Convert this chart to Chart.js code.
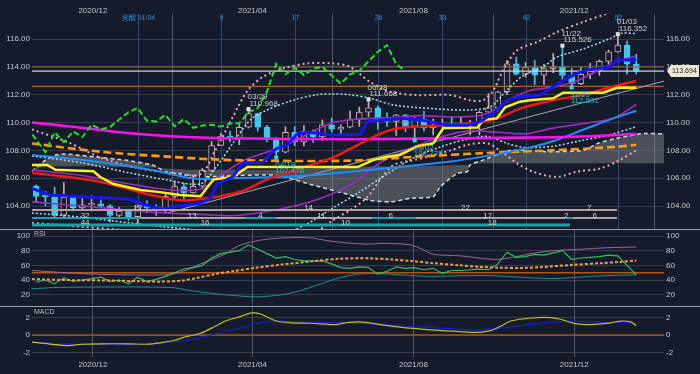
<!DOCTYPE html>
<html><head><meta charset="utf-8">
<script src="https://cdn.jsdelivr.net/npm/chart.js@4.4.1/dist/chart.umd.min.js"></script>
<style>
html,body{margin:0;padding:0;background:#151b2a;}
body{width:700px;height:374px;position:relative;overflow:hidden;}
canvas{position:absolute;left:0;}
</style></head><body>
<canvas id="cMain" width="700" height="229" style="top:0"></canvas>
<canvas id="cRsi" width="700" height="77" style="top:229px"></canvas>
<canvas id="cMacd" width="700" height="68" style="top:306px"></canvas>
<script>
// ---------- DATA ----------
const weekStart = '2020-10-19'; // week index 0
const opens = [105.42,104.70,104.66,103.35,104.62,103.86,104.08,104.16,104.02,103.32,103.64,103.23,103.94,103.86,103.78,104.70,105.39,104.95,105.42,106.56,108.35,109.03,108.88,109.66,110.64,109.66,108.78,107.88,109.30,108.60,109.36,108.96,109.84,109.52,109.67,110.22,110.75,111.05,110.13,110.08,110.55,109.72,110.25,109.62,109.78,109.84,109.71,109.93,109.94,110.74,111.05,112.21,114.22,113.47,113.95,113.41,113.87,114.00,113.38,112.80,113.46,113.71,114.40,115.08,115.56,114.20];
const highs = [105.53,105.06,105.35,105.68,104.72,104.75,104.75,104.45,104.11,103.89,103.78,104.08,104.40,104.09,104.94,105.77,105.65,106.22,106.70,108.64,109.24,109.36,109.85,110.968,110.68,109.80,108.94,109.70,109.70,109.79,109.48,110.20,110.33,109.81,110.82,111.11,111.668,111.20,110.70,110.59,110.59,110.37,110.80,110.25,110.25,110.42,110.45,110.16,110.80,112.08,112.25,114.47,114.70,114.31,114.45,114.19,114.97,115.526,113.89,113.95,114.25,114.50,115.20,116.352,115.85,114.90];
const lows = [104.34,104.02,103.18,103.19,103.65,103.70,103.66,103.90,102.88,103.24,102.96,102.59,103.52,103.33,103.56,104.48,104.52,104.92,105.22,106.50,108.34,108.61,108.41,109.60,109.38,108.61,107.478,107.80,108.34,108.34,108.57,108.72,109.32,109.19,109.61,109.72,110.42,109.53,109.72,109.07,109.35,108.723,109.40,109.11,109.60,109.60,109.59,109.11,109.11,110.68,110.82,112.00,113.41,113.26,112.73,112.72,113.58,113.06,112.531,112.73,113.15,113.40,114.23,115.05,113.48,113.50];
const closes = [104.70,104.66,103.35,104.62,103.86,104.08,104.16,104.02,103.32,103.64,103.23,103.94,103.86,103.78,104.70,105.39,104.95,105.42,106.56,108.35,109.03,108.88,109.66,110.64,109.66,108.78,107.88,109.30,108.60,109.36,108.96,109.84,109.52,109.67,110.22,110.75,111.05,110.13,110.08,110.55,109.72,110.25,109.62,109.78,109.84,109.71,109.93,109.94,110.74,111.05,112.21,114.22,113.47,113.95,113.41,113.87,114.00,113.38,112.80,113.46,113.71,114.40,115.08,115.56,114.20,113.694];

const monthTickDates = ['2020-12-01','2021-04-01','2021-08-01','2021-12-01'];
const monthTickLabels = ['2020/12','2021/04','2021/08','2021/12'];
const priceTicks = [104,106,108,110,112,114,116];
const rsiTicks = [20,40,60,80,100];
const macdTicks = [-2,0,2];
const weekMarkDates = ['2021-01-04','2021-03-08','2021-05-03','2021-07-05','2021-08-23','2021-10-25','2022-01-03'];
const weekMarkLabels = ['覚醒 01/04','9','17','26','33','42','52'];

const highMarkWeeks = [23,36,57,63];
const highMarkLabels = ['03/29','06/28','11/22','01/03'];
const lowMarkWeeks = [26,41,58];
const lowMarkLabels = ['04/19','08/02','11/29'];

const levelValues = [114.0, 112.6];
const chikouShift = 25;

// indicator lines: [weekIndex, value]
const maMagenta = [[-0.45,110.0],[4,109.7],[9,109.3],[15,109.0],[21,108.87],[34,108.8],[45,108.87],[56,108.94],[63,109.1],[65,109.2]];
const maOrange = [[-0.45,108.5],[7,107.9],[14.2,107.55],[21.3,107.3],[34,107.26],[41.3,107.55],[48.4,107.8],[55.7,108.0],[62.9,108.26],[65,108.4]];
const maDodger = [[-0.45,107.67],[5.1,107.3],[12.4,106.6],[15.9,106.1],[17.8,105.94],[21.3,106.0],[26.8,106.1],[34,106.47],[44.9,107.2],[48.4,107.55],[52.1,108.0],[55.7,108.6],[59.3,109.5],[62.5,110.3],[65,110.85]];
const maRed = [[-0.45,106.4],[6.9,105.75],[12.4,104.8],[15.9,104.4],[18.9,104.6],[22.1,105.03],[25,105.9],[28.6,106.7],[32.2,107.5],[34,108.1],[37.3,109.2],[39.4,109.6],[44,109.8],[48.1,110.0],[50.3,110.4],[52.4,111.0],[56,111.6],[59.3,112.0],[62,112.5],[65,113.0]];
const kijunYellow = [[-0.45,106.95],[1.2,106.95],[2.1,106.6],[6.2,106.5],[6.9,106.1],[8.3,105.6],[11.3,105.15],[13.4,105.0],[15.6,104.8],[17.8,104.7],[19.2,105.9],[21.3,106.1],[22.9,106.8],[34.8,106.8],[36.5,107.3],[38,107.55],[39.4,107.67],[41.3,108.3],[43,108.5],[44.1,109.6],[47.8,109.65],[48.4,110.2],[49.9,110.3],[50.8,111.1],[52.4,111.5],[53.5,111.6],[56,111.74],[57.1,112.14],[61.4,112.14],[62.9,112.5],[65,112.5]];
const tenkanBlue = [[-0.45,105.27],[1.5,104.8],[6.9,104.6],[10.1,104.5],[11.3,104.2],[13.1,103.84],[14.2,103.8],[14.9,103.95],[17.8,104.2],[18.9,104.56],[19.6,105.6],[21.3,106.1],[22.4,107.07],[24.6,107.14],[25.4,107.8],[26.1,108.15],[27.2,108.4],[28.3,109.2],[29.4,109.3],[32.2,109.1],[35.1,109.16],[35.9,110.06],[39.4,110.3],[41.6,110.2],[44.5,109.8],[46.7,109.8],[48.1,110.06],[49.5,110.66],[51,111.6],[52.4,111.86],[54.6,111.97],[56,112.57],[57.5,113.17],[58.6,113.54],[59.7,113.77],[62.2,114.0],[62.9,114.5],[65,114.5]];
const bandPinkUp = [[-0.45,109.5],[3.4,108.6],[6.9,107.5],[10.5,106.8],[14.2,106.4],[17.8,106.3],[19.4,108.0],[21.3,110.4],[22.9,112.3],[24.6,113.3],[26.8,113.9],[29.4,114.25],[32.2,114.25],[34,114.0],[36.2,112.9],[38.4,112.2],[41.3,111.97],[44.9,111.97],[47,111.6],[48.4,111.6],[49.5,112.3],[50.6,113.8],[52.1,115.2],[54.3,115.8],[56.4,116.5],[59.3,117.24],[61.9,117.85],[65,118.5]];
const bandPinkLo = [[-0.45,102.8],[5.1,102.5],[10.5,102.2],[14,101.8],[20,101.2],[26,101.0],[30,102.0],[32.2,103.0],[34,103.7],[35.9,104.67],[37.6,106.2],[38.7,106.95],[41.3,107.36],[44.9,108.0],[46.7,108.4],[48.9,108.5],[50.6,107.8],[52.1,107.07],[53.8,106.47],[56.4,106.1],[58.6,106.47],[61.1,106.7],[62.9,107.2],[65,108.0]];
const bandCyanUp = [[-0.45,107.6],[5,107.1],[10,106.4],[14,105.9],[17.8,105.6],[19.5,106.8],[21.3,108.5],[23.2,110.2],[25,110.9],[27.8,111.6],[30.4,112.0],[32.2,112.05],[34,112.0],[36.2,111.74],[38.7,111.26],[43,111.0],[46.7,110.9],[49.2,111.14],[51,112.34],[52.8,113.4],[54.9,114.0],[56.4,114.7],[59.3,115.3],[62.2,116.05],[63.3,116.4],[65,116.4]];
const bandCyanLo = [[-0.45,103.5],[5,103.2],[10,102.8],[14,102.5],[18,102.2],[22,101.6],[26,101.8],[29,102.6],[32,103.8],[35,105.0],[38,106.3],[41,107.5],[44,108.3],[46.7,108.8],[48.9,109.0],[51,108.5],[53,108.2],[56,108.3],[59,108.7],[62,109.1],[65,109.7]];
const bandPurpleUp = [[-0.45,106.6],[5,106.2],[10,105.6],[14,105.2],[17.8,105.2],[19.6,106.0],[21.3,106.8],[22.9,107.4],[26.8,108.3],[30.4,109.5],[32.2,110.0],[34,110.2],[39.4,110.4],[41.6,110.5],[44.9,110.4],[48.1,110.5],[49.9,111.0],[51.7,111.8],[53.5,112.3],[56.4,112.6],[58.6,113.0],[61,113.8],[63,114.4],[65,114.8]];
const bandPurpleLo = [[-0.45,104.3],[5,104.0],[10,103.7],[14,103.5],[18,103.4],[21,103.3],[24,103.5],[28,104.0],[31,104.6],[34,105.5],[37,107.0],[40,108.0],[44,109.0],[47,109.4],[50,109.3],[53,109.2],[56,109.6],[60,110.0],[62.5,110.3],[65,111.3]];
const cloudX = [-0.45,1,2.1,3.1,6.1,9.6,12.6,14,15.4,17.8,22,26.1,30,34,36.2,38.4,40.5,43,43.8,45.6,46.7,47,48.4,51.4,55.7,59.3,60.8,62.9,64.7,65.4,68];
const spanA = [106.5,107.3,107.67,107.74,107.55,107.3,106.95,106.47,106.35,106.1,106.2,106.2,105.5,104.8,104.4,104.3,104.55,104.67,105.4,106.35,106.47,106.95,107.3,108.0,107.9,108.0,108.5,108.87,109.1,109.2,109.2];
const spanB = [106.6,106.83,106.85,106.85,106.85,106.8,106.75,106.7,106.65,106.6,106.6,106.6,106.7,106.83,106.85,106.85,106.88,106.9,106.9,106.95,106.95,107.0,107.07,107.07,107.07,107.07,107.07,107.07,107.07,107.07,107.07];
const trendLine = [[14.2,103.5],[68.4,113.05]];

// cycle count rows: [fromWeek, toWeek, kind]
const cycleRow1 = [[-0.45,62.9,'p']];
const cycleRow1Labels = [[11.0,'12'],[29.5,'14'],[46.5,'22'],[59.9,'7']];
const cycleRow2 = [[-0.45,11.3,'t'],[11.3,22.7,'p'],[22.7,26,'t'],[26,36.4,'p'],[36.4,41.1,'t'],[41.1,57.3,'p'],[57.3,58.1,'t'],[58.1,62.9,'p']];
const cycleRow2Labels = [[5.3,'32'],[16.9,'13'],[24.3,'4'],[30.9,'11'],[38.4,'6'],[48.9,'17'],[57.4,'2'],[60.5,'6']];
const cycleRow3 = [[-0.45,57.8,'t']];
const cycleRow3Labels = [[5.3,'44'],[18.3,'16'],[33.5,'10'],[49.4,'18']];

// RSI panel
const rsiGreen = [37,40,35,43,38,40,42,44,38,40,35,44,38,41,45,50,55,57,60,70,76,78,80,88,82,76,70,72,68,66,66,66,62,57,56,58,57,48,52,58,56,57,54,56,49,53,53,54,55,54,62,78,71,72,75,74,77,80,68,70,71,72,74,73,60,47];
const rsiPurple = [[-0.45,53],[4.4,49],[8,47.5],[13.5,47],[15.5,50],[17.4,60],[20.4,75],[21.8,86],[23.7,93],[26.1,97],[29,98],[30,97],[31.9,93],[34.3,90],[35.8,89],[37.7,90],[40.5,88],[41.8,82],[43,75],[45.9,73],[49.7,68],[51.7,71],[53.6,76],[56,80],[58.9,82],[61.8,84],[65,85]];
const rsiTeal = [[-0.45,28],[2.5,30],[14.5,30],[16.5,26],[18.9,22],[21.3,19],[23.7,17],[25.2,18],[27.1,21],[29,27],[30.9,35],[32.8,43],[34.8,48],[36.7,49],[39.6,47],[42.5,45],[46.4,46],[49.2,46],[52.1,44],[56,42],[58.9,44],[61.8,46],[65,47]];
const rsiSignal = [[-0.45,41.3],[3,40],[7,39.5],[11,38.5],[13.4,37.8],[15.6,39],[17.5,43],[19.3,48],[21.5,52.5],[23.7,56.5],[26.5,61],[29.9,65.5],[32.8,69],[36.2,69.5],[38.5,68],[40.6,66],[43,63],[45.9,60],[48,58],[50.3,56.8],[52.5,56.5],[54.6,57.5],[57.9,60.5],[61.1,63],[63,64.5],[65,66.5]];
const rsiLevel = 50;

// MACD panel
const macdLine = [[-0.45,-0.8],[2,-1.1],[3.5,-1.2],[5,-1.05],[7,-1.0],[10,-1.0],[12,-1.05],[13.4,-0.9],[15,-0.6],[16.2,-0.2],[17.8,0.2],[19.4,1.0],[20.5,1.6],[22.1,2.1],[23.2,2.5],[24.3,2.4],[26,1.6],[27.6,1.4],[29.7,1.35],[32.4,1.2],[33.5,1.4],[35,1.5],[37.3,1.2],[39.4,0.9],[42.7,0.6],[45.9,0.4],[47.6,0.3],[49.2,0.5],[50.3,1.0],[51.4,1.6],[53.6,1.95],[55.7,2.0],[56.8,1.8],[58.4,1.3],[60,1.2],[62.2,1.4],[63.3,1.6],[64.4,1.5],[65,1.05]];
const macdSignal = [[-0.45,-0.8],[2.6,-1.0],[6.9,-1.05],[10.2,-1.1],[13.4,-0.9],[15.6,-0.7],[17.8,-0.3],[20.5,0.4],[22.1,0.8],[23.7,1.3],[25.9,1.6],[28.6,1.5],[31.9,1.45],[34,1.4],[37.3,1.2],[40.6,1.0],[43.8,0.8],[47,0.6],[48.1,0.6],[50.3,0.8],[53.5,1.2],[56.2,1.5],[57.9,1.6],[60,1.5],[62.2,1.4],[64.4,1.4],[65,1.2]];
const macdLevel = 0;

// ---------- RENDER ----------
const X_MIN = -0.45, X_MAX = 68.0;
const BG = '#151b2a';
const FONT = '"Liberation Sans", Arial, sans-serif';
Chart.defaults.font.family = FONT;
Chart.defaults.font.size = 8;
Chart.defaults.color = '#c4c7cc';
Chart.defaults.animation = false;

const idxOf = d => (Date.parse(d) - Date.parse(weekStart)) / (7*86400000);
const pairs = a => a.map(p => ({x:p[0], y:p[1]}));
const flat = v => [{x:X_MIN,y:v},{x:X_MAX,y:v}];

function line(data, color, width, dash, order, tension, extra){
  return Object.assign({type:'line', data, borderColor:color, borderWidth:width, borderDash:dash||[],
    pointRadius:0, tension:tension===undefined?0.3:tension, fill:false, order}, extra||{});
}
function xScale(extra){
  return Object.assign({
    type:'linear', min:X_MIN, max:X_MAX, offset:false,
    afterBuildTicks: s => { s.ticks = monthTickDates.map(d => ({value: idxOf(d)})); },
    ticks:{autoSkip:false, maxRotation:0, color:'#c4c7cc', font:{size:8}, padding:1, callback:(v,i)=>monthTickLabels[i]},
    grid:{color:'rgba(150,158,172,0.45)', drawTicks:false, lineWidth:1},
    border:{display:false}
  }, extra);
}
function yScale(pos, min, max, tickVals, fmt, showGrid){
  return {
    type:'linear', position:pos, min, max,
    afterBuildTicks: s => { s.ticks = tickVals.map(v => ({value:v})); },
    afterFit: s => { s.width = pos === 'left' ? 32 : 36; s.paddingTop = 0; s.paddingBottom = 0; },
    ticks:{color:'#c4c7cc', font:{size:8}, padding:2, callback:fmt},
    grid:{display:showGrid, color:'rgba(120,132,152,0.32)', drawTicks:false},
    border:{display:false}
  };
}

// main panel
const HOLLOW = '#c9a7b0', CYAN = '#46c3ea';
const isUp = closes.map((c,i) => c >= opens[i]);
const mainExtras = {
  id:'mainExtras',
  beforeDatasetsDraw(chart){
    const {ctx, chartArea:a, scales:{x}} = chart;
    ctx.save();
    ctx.font = '7px ' + FONT; ctx.textAlign = 'center'; ctx.textBaseline = 'middle';
    weekMarkDates.forEach((d,k) => {
      const px = Math.round(x.getPixelForValue(idxOf(d))) + 0.5;
      ctx.strokeStyle = 'rgba(44,108,178,0.6)'; ctx.lineWidth = 1;
      ctx.beginPath(); ctx.moveTo(px, a.top); ctx.lineTo(px, a.bottom); ctx.stroke();
      ctx.fillStyle = '#2f8fd6'; ctx.fillText(weekMarkLabels[k], px, a.top + 4);
    });
    ctx.restore();
  },
  afterDatasetsDraw(chart){
    const {ctx, chartArea:a, scales:{x, y}} = chart;
    ctx.save();
    const cols = {p:'#b49ca2', t:'#18a3a6'};
    const rows = [[cycleRow1, cycleRow1Labels, 19, 2], [cycleRow2, cycleRow2Labels, 11, 2], [cycleRow3, cycleRow3Labels, 4, 3]];
    rows.forEach(([segs, labels, off, w]) => {
      const ly = a.bottom - off;
      segs.forEach(s => {
        ctx.strokeStyle = cols[s[2]]; ctx.lineWidth = w;
        ctx.beginPath(); ctx.moveTo(x.getPixelForValue(s[0]), ly); ctx.lineTo(x.getPixelForValue(s[1]), ly); ctx.stroke();
      });
      ctx.font = '8px ' + FONT; ctx.textAlign = 'center'; ctx.textBaseline = 'middle'; ctx.fillStyle = '#d2d2d2';
      labels.forEach(l => ctx.fillText(l[1], x.getPixelForValue(l[0]), ly - 2));
    });
    ctx.font = '8px ' + FONT; ctx.textAlign = 'left'; ctx.textBaseline = 'middle';
    highMarkWeeks.forEach((i,k) => {
      const px = x.getPixelForValue(i), py = y.getPixelForValue(highs[i]);
      ctx.fillStyle = '#ecdde2'; ctx.fillRect(px-2, py-2, 4, 4);
      ctx.fillStyle = '#cfcfcf';
      ctx.fillText(highMarkLabels[k], px-1, py-12);
      ctx.fillText(highs[i].toFixed(3), px+1, py-5.5);
    });
    lowMarkWeeks.forEach((i,k) => {
      const px = x.getPixelForValue(i), py = y.getPixelForValue(lows[i]);
      ctx.fillStyle = '#3fd2e2'; ctx.fillRect(px-2, py-2, 4, 4);
      ctx.fillStyle = '#37bfc6';
      ctx.fillText(lowMarkLabels[k], px-1, py+7);
      ctx.fillText(lows[i].toFixed(3), px-1, py+13.5);
    });
    ctx.restore();
  },
  afterDraw(chart){
    const {ctx, chartArea:a, scales:{y}} = chart;
    const v = closes[closes.length-1];
    const py = Math.round(y.getPixelForValue(v));
    ctx.save();
    ctx.fillStyle = '#ece6d3';
    ctx.beginPath();
    ctx.moveTo(a.right+3, py); ctx.lineTo(a.right+7, py-6); ctx.lineTo(699, py-6);
    ctx.lineTo(699, py+6); ctx.lineTo(a.right+7, py+6); ctx.closePath(); ctx.fill();
    ctx.fillStyle = '#262626'; ctx.font = '7px ' + FONT; ctx.textAlign = 'left'; ctx.textBaseline = 'middle';
    ctx.fillText(v.toFixed(3), a.right+8, py+0.5);
    ctx.restore();
  }
};
const bgPlugin = {
  id:'bg',
  beforeDraw(chart){ const c = chart.ctx; c.save(); c.fillStyle = BG; c.fillRect(0,0,chart.width,chart.height); c.restore(); }
};

new Chart(document.getElementById('cMain'), {
  type:'line',
  data:{datasets:[
    line(cloudX.map((v,i)=>({x:v,y:spanA[i]})), 'rgba(232,232,232,0.9)', 1.5, [4,3], 100, 0.2, {fill:'+1', backgroundColor:'rgba(150,152,158,0.42)'}),
    line(cloudX.map((v,i)=>({x:v,y:spanB[i]})), 'rgba(0,0,0,0)', 1, [], 99, 0.2),
    {type:'bar', data: highs.map((h,i)=>({x:i, y:[lows[i], h]})), backgroundColor: isUp.map(u=>u?HOLLOW:CYAN), barThickness:1, grouped:false, order:95},
    {type:'bar', data: opens.map((o,i)=>({x:i, y:[o, closes[i]]})), backgroundColor: isUp.map(u=>u?'#171d2c':CYAN), borderColor: isUp.map(u=>u?HOLLOW:CYAN), borderWidth:1, borderSkipped:false, barThickness:6, grouped:false, minBarLength:1.5, order:94},
    line(flat(levelValues[0]), '#94683a', 1, [], 90, 0),
    line(flat(levelValues[1]), '#b5600e', 1.2, [], 90, 0),
    line(flat(closes[closes.length-1]), '#d8d0bf', 1.2, [], 90, 0),
    line(pairs(trendLine), '#a4a6aa', 1, [], 88, 0),
    line(pairs(bandPinkUp), '#e2a9b6', 2, [2,3], 80),
    line(pairs(bandPinkLo), '#e2a9b6', 2, [2,3], 80),
    line(pairs(bandCyanUp), '#a6e2ea', 1.5, [2,2], 79),
    line(pairs(bandCyanLo), '#a6e2ea', 1.5, [2,2], 79),
    line(pairs(bandPurpleUp), '#a02cc0', 1.6, [], 78),
    line(pairs(bandPurpleLo), '#a02cc0', 1.6, [], 78),
    line(pairs(maOrange), '#ff9a12', 2.6, [8,4], 70),
    line(pairs(maDodger), '#1e8ff8', 2, [], 69),
    line(pairs(maMagenta), '#ff10f0', 2.6, [], 68),
    line(pairs(maRed), '#f01818', 2.5, [], 60),
    line(pairs(kijunYellow), '#fff21a', 2.5, [], 59, 0),
    line(pairs(tenkanBlue), '#1414ff', 3, [], 58, 0),
    line(closes.map((c,i)=>({x:i-chikouShift, y:c})), '#25dc25', 2, [6,3], 50, 0)
  ]},
  options:{
    responsive:false, animation:false, events:[],
    layout:{padding:0},
    plugins:{legend:{display:false}, tooltip:{enabled:false}},
    scales:{
      x: xScale({position:'top', ticks:{autoSkip:false, maxRotation:0, color:'#c4c7cc', font:{size:8}, padding:-2, callback:(v,i)=>monthTickLabels[i]}, afterFit: s => { s.height = 14; }}),
      y: yScale('left', 102.35, 117.8, priceTicks, v => v.toFixed(2), true),
      y2: yScale('right', 102.35, 117.8, priceTicks, v => v.toFixed(2), false)
    }
  },
  plugins:[bgPlugin, mainExtras]
});

function panelLabel(text){
  return {
    id:'panel_'+text,
    afterDraw(chart){
      const {ctx, chartArea:a} = chart;
      ctx.save();
      ctx.strokeStyle = '#9aa0aa'; ctx.lineWidth = 1;
      ctx.beginPath(); ctx.moveTo(0, 0.5); ctx.lineTo(chart.width, 0.5); ctx.stroke();
      ctx.fillStyle = '#b9bdc4'; ctx.font = '7px ' + FONT; ctx.textAlign = 'left'; ctx.textBaseline = 'middle';
      ctx.fillText(text, a.left + 2, a.top + 4.5);
      ctx.restore();
    }
  };
}

new Chart(document.getElementById('cRsi'), {
  type:'line',
  data:{datasets:[
    line(flat(rsiLevel), '#b0561c', 1.5, [], 90, 0),
    line(pairs(rsiTeal), '#1b9096', 1, [], 80),
    line(pairs(rsiPurple), '#946a94', 1, [], 79),
    line(rsiGreen.map((v,i)=>({x:i,y:v})), '#2fbf63', 1.2, [], 70, 0),
    line(pairs(rsiSignal), '#f2a03a', 2, [3,2], 60)
  ]},
  options:{
    responsive:false, animation:false, events:[],
    layout:{padding:{top:1}},
    plugins:{legend:{display:false}, tooltip:{enabled:false}},
    scales:{
      x: xScale({position:'bottom', ticks:{display:false}, afterFit: s => { s.height = 0; }}),
      y: yScale('left', 4.6, 108.2, rsiTicks, v => String(v), true),
      y2: yScale('right', 4.6, 108.2, rsiTicks, v => String(v), false)
    }
  },
  plugins:[bgPlugin, panelLabel('RSI')]
});

new Chart(document.getElementById('cMacd'), {
  type:'line',
  data:{datasets:[
    line(flat(macdLevel), '#a8531a', 1.5, [], 90, 0),
    line(pairs(macdSignal), '#1a1ad8', 1.2, [], 80),
    line(pairs(macdLine), '#c2c21c', 1.2, [], 70)
  ]},
  options:{
    responsive:false, animation:false, events:[],
    layout:{padding:{top:2}},
    plugins:{legend:{display:false}, tooltip:{enabled:false}},
    scales:{
      x: xScale({position:'bottom', ticks:{autoSkip:false, maxRotation:0, color:'#c4c7cc', font:{size:8}, padding:3, callback:(v,i)=>monthTickLabels[i]}, afterFit: s => { s.height = 17; }}),
      y: yScale('left', -2.51, 3.09, macdTicks, v => String(v), true),
      y2: yScale('right', -2.51, 3.09, macdTicks, v => String(v), false)
    }
  },
  plugins:[bgPlugin, panelLabel('MACD')]
});
</script>
</body></html>
